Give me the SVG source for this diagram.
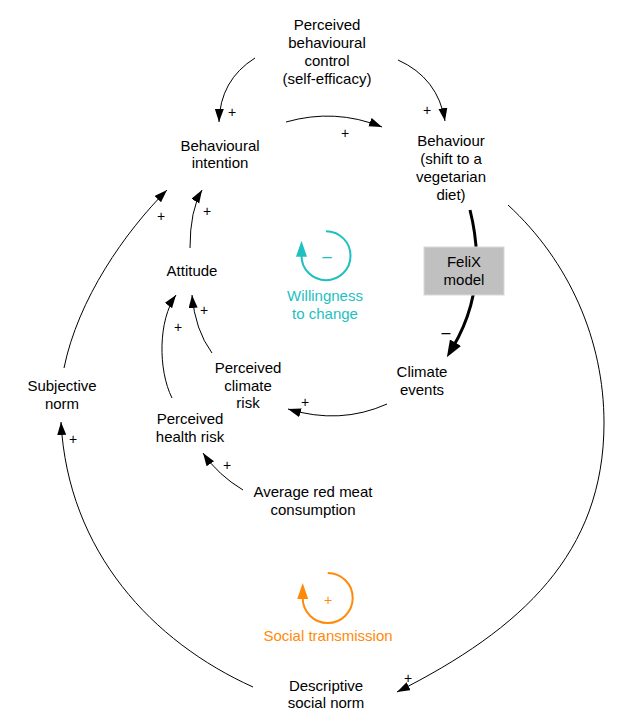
<svg xmlns="http://www.w3.org/2000/svg" width="630" height="726" viewBox="0 0 630 726">
<style>
text{font-family:"Liberation Sans",Arial,sans-serif;font-size:15px;fill:#000;text-anchor:middle}
.pol{font-size:14px}
.c{fill:none;stroke:#000;stroke-width:1}
.thick{fill:none;stroke:#000;stroke-width:3}
.teal{fill:#1EC0C0}
.orng{fill:#FF8A0A}
</style>
<defs>
<marker id="ah" markerUnits="userSpaceOnUse" markerWidth="14" markerHeight="10" refX="13" refY="4.5" orient="auto">
<path d="M0,0 L13,4.5 L0,9 z" fill="#000"/>
</marker>
<marker id="ahb" markerUnits="userSpaceOnUse" markerWidth="18" markerHeight="14" refX="5" refY="6.5" orient="auto">
<path d="M0,0 L17,6.5 L0,13 z" fill="#000"/>
</marker>
<marker id="aht" markerUnits="userSpaceOnUse" markerWidth="18" markerHeight="12" refX="1" refY="5.5" orient="auto">
<path d="M0,0 L16,5.5 L0,11 z" fill="#1EC0C0"/>
</marker>
<marker id="aho" markerUnits="userSpaceOnUse" markerWidth="18" markerHeight="12" refX="1" refY="5.5" orient="auto">
<path d="M0,0 L16,5.5 L0,11 z" fill="#FF8A0A"/>
</marker>
</defs>
<rect width="630" height="726" fill="#fff"/>

<g id="connectors">
<path class="c" d="M255,58 Q220,80 219,122" marker-end="url(#ah)"/>
<path class="c" d="M398,60 Q438,78 445,121" marker-end="url(#ah)"/>
<path class="c" d="M286,122 Q335,108 382,127" marker-end="url(#ah)"/>
<path class="c" d="M190,248 Q190,210 202,190" marker-end="url(#ah)"/>
<path class="c" d="M64,368 C78,299 125,232 167,190" marker-end="url(#ah)"/>
<path class="c" d="M172,398 C158,370 158,320 176,295" marker-end="url(#ah)"/>
<path class="c" d="M212,353 Q195,330 192,295" marker-end="url(#ah)"/>
<path class="c" d="M387,404 Q340,425 288,409" marker-end="url(#ah)"/>
<path class="c" d="M243,490 Q218,475 203,453" marker-end="url(#ah)"/>
<path class="c" d="M508,205 C569,261 604,340 604,423 C604,553 522,629 397,692" marker-end="url(#ah)"/>
<path class="c" d="M253,687 C153,642 68,552 61,422" marker-end="url(#ah)"/>
<path class="thick" d="M470,210 C480,250 482,298 453,347" marker-end="url(#ahb)"/>
<g>
<text x="232" y="117" class="pol">+</text>
<text x="427" y="115" class="pol">+</text>
<text x="345" y="138" class="pol">+</text>
<text x="207" y="216" class="pol">+</text>
<text x="161" y="221" class="pol">+</text>
<text x="178" y="332" class="pol">+</text>
<text x="204" y="315" class="pol">+</text>
<text x="305" y="407" class="pol">+</text>
<text x="227" y="470" class="pol">+</text>
<text x="73" y="444" class="pol">+</text>
<text x="408" y="683" class="pol">+</text>
<text x="446" y="338" style="font-size:16px">–</text>
</g>
</g>

<g id="node-pbc">
<text x="327" y="30">Perceived</text>
<text x="327" y="48">behavioural</text>
<text x="327" y="66">control</text>
<text x="327" y="84">(self-efficacy)</text>
</g>
<g id="node-intention">
<text x="220" y="151">Behavioural</text>
<text x="220" y="168">intention</text>
</g>
<g id="node-behaviour">
<text x="451" y="146">Behaviour</text>
<text x="451" y="164">(shift to a</text>
<text x="451" y="182">vegetarian</text>
<text x="451" y="200">diet)</text>
</g>
<g id="node-felix">
<rect x="424" y="247" width="80" height="48" fill="#C0C0C0" stroke="#D9D9D9" stroke-width="1"/>
<text x="464" y="267">FeliX</text>
<text x="464" y="285">model</text>
</g>
<g id="node-climate-events">
<text x="422" y="377">Climate</text>
<text x="422" y="395">events</text>
</g>
<g id="node-attitude">
<text x="192" y="276">Attitude</text>
</g>
<g id="node-subjective-norm">
<text x="62" y="391">Subjective</text>
<text x="62" y="409">norm</text>
</g>
<g id="node-climate-risk">
<text x="248" y="373">Perceived</text>
<text x="248" y="391">climate</text>
<text x="248" y="408">risk</text>
</g>
<g id="node-health-risk">
<text x="190" y="424">Perceived</text>
<text x="190" y="442">health risk</text>
</g>
<g id="node-red-meat">
<text x="313" y="497">Average red meat</text>
<text x="313" y="515">consumption</text>
</g>
<g id="node-descriptive-norm">
<text x="326" y="691">Descriptive</text>
<text x="326" y="708">social norm</text>
</g>

<g id="loop-willingness">
<path d="M326,231.2 A24.5,24.5 0 1 1 301.5,255.7" fill="none" stroke="#1EC0C0" stroke-width="2" marker-end="url(#aht)"/>
<text x="327" y="262" class="teal" style="font-size:17px">–</text>
<text x="325" y="301" class="teal">Willingness</text>
<text x="325" y="319" class="teal">to change</text>
</g>
<g id="loop-social">
<path d="M327.7,573 A25,25 0 1 1 302.7,598" fill="none" stroke="#FF8A0A" stroke-width="2" marker-end="url(#aho)"/>
<text x="328" y="605" class="orng" style="font-size:14px">+</text>
<text x="328" y="641" class="orng">Social transmission</text>
</g>
</svg>
